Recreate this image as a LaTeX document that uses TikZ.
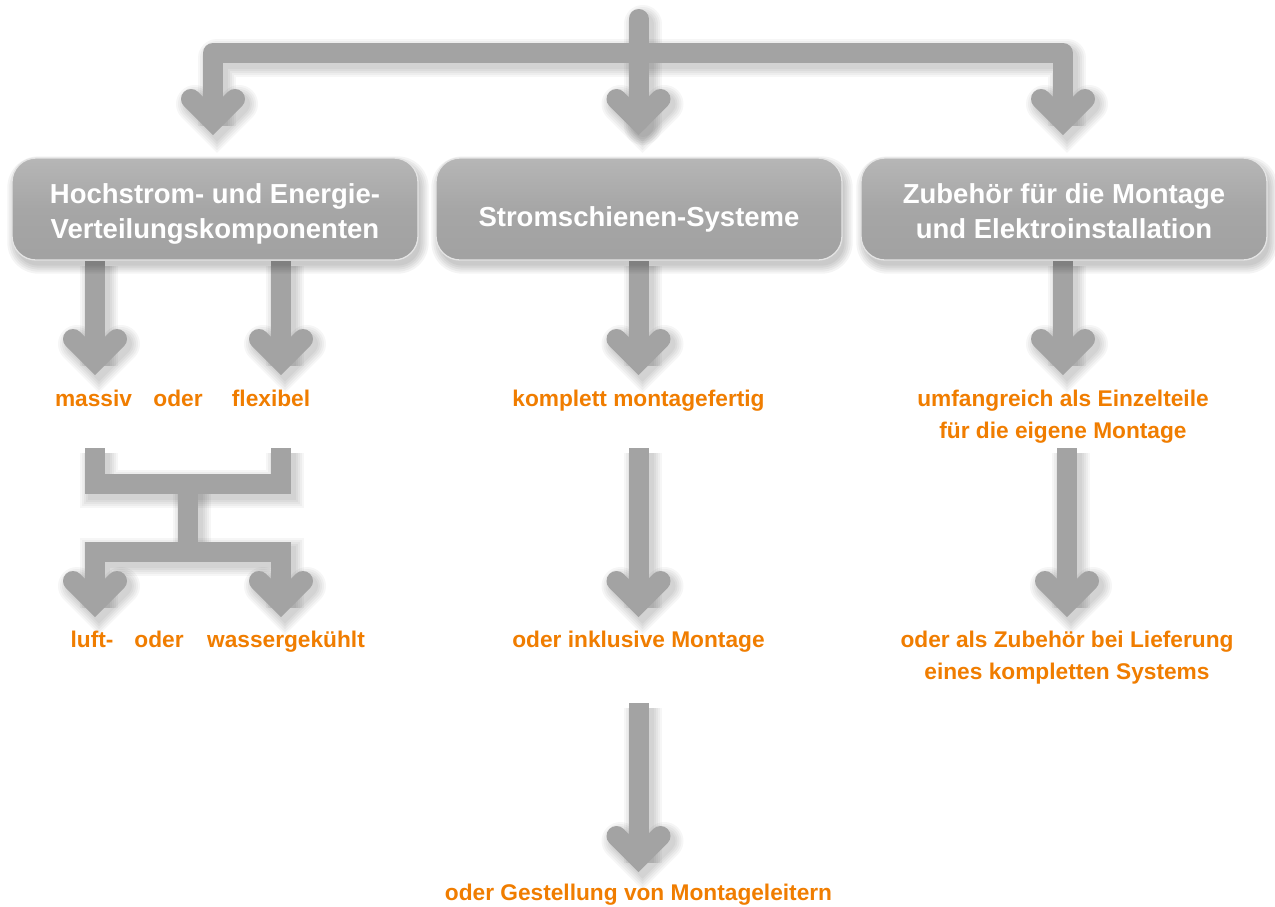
\documentclass[tikz,border=0pt]{standalone}
\usepackage{fontspec}
\setmainfont{Liberation Sans}
\definecolor{cgray}{HTML}{A3A3A3}
\definecolor{org}{HTML}{F07D00}
\definecolor{bxt}{HTML}{CBCBCB}
\definecolor{bxq}{HTML}{B4B4B4}
\definecolor{bxm}{HTML}{A6A6A6}
\definecolor{bxb}{HTML}{9D9D9D}
\definecolor{bxe}{HTML}{E4E4E4}
\pgfdeclareverticalshading{boxshade}{100bp}{color(0bp)=(bxb); color(50bp)=(bxm); color(72bp)=(bxq); color(100bp)=(bxt)}
\pgfdeclarelayer{bglayer}
\pgfdeclarelayer{shadowlayer}
\pgfdeclarelayer{connlayer}
\pgfdeclarelayer{boxshadowlayer}
\pgfsetlayers{bglayer,shadowlayer,connlayer,boxshadowlayer,main}
\newcommand\chev[2]{\draw[#1, line join=miter, line cap=round] (#2) ++(-22,-22) -- (#2) -- ++(22,-22);}
\newcommand\connpaths[1]{%
  \draw[#1, line join=round] (va) |- (bar) -| (vc);
  \draw[#1, line cap=round] (top) -- (vb);
  \chev{#1}{va}\chev{#1}{vb}\chev{#1}{vc}
  \draw[#1] (b1.south -| v11) -- (v11);
  \draw[#1] (b1.south -| v12) -- (v12);
  \draw[#1] (b2.south -| v2a) -- (v2a);
  \draw[#1] (b3.south -| v3a) -- (v3a);
  \chev{#1}{v11}\chev{#1}{v12}\chev{#1}{v2a}\chev{#1}{v3a}
  \draw[#1, line join=miter] (hl) |- (hm) -| (hr);
  \draw[#1] (hm) -- (hn);
  \draw[#1, line join=miter] (v13) |- (hn) -| (v14);
  \draw[#1] (s2b) -- (v2b);
  \draw[#1] (s2c) -- (v2c);
  \draw[#1] (s3b) -- (v3b);
  \chev{#1}{v13}\chev{#1}{v14}\chev{#1}{v2b}\chev{#1}{v3b}\chev{#1}{v2c}
}
\newcommand\boxshadow[1]{%
  \foreach \e/\r in {7/31,5/29,3/27,1/25,-1/23}{%
    \fill[black, opacity=0.045, rounded corners=\r pt]
      ([xshift=3pt-\e pt, yshift=-6pt-\e pt]#1.south west) rectangle
      ([xshift=3pt+\e pt, yshift=-6pt+\e pt]#1.north east);
  }%
}
\begin{document}
\begin{tikzpicture}[x=1pt,y=-1pt,
  conn/.style={draw=cgray, line width=20pt},
  shd/.style={draw=black, line width=#1, opacity=0.035, transform canvas={shift={(4pt,-5pt)}}},
  box/.style={rounded corners=24pt, minimum width=406pt, minimum height=102pt,
    shading=boxshade, draw=bxe, line width=1.3pt},
  btxt/.style={text=white, font=\fontsize{27.5}{33}\selectfont\bfseries, anchor=base, inner sep=0pt},
  otxt/.style={text=org, font=\fontsize{22.7}{32}\selectfont\bfseries, anchor=base, inner sep=0pt}]
\begin{pgfonlayer}{bglayer}
\fill[white] (0,0) rectangle (1275,906);
\end{pgfonlayer}
\useasboundingbox (0,0) rectangle (1275,906);
% boxes
\node[box] (b1) at (215,209) {};
\node[box] (b2) at (639,209) {};
\node[box] (b3) at (1064,209) {};
\node[btxt] (b1l1) at (215,203) {Hochstrom- und Energie-};
\node[btxt] (b1l2) at (215,238) {Verteilungskomponenten};
\node[btxt] (b2l1) at (639,226) {Stromschienen-Systeme};
\node[btxt] (b3l1) at (1064,203) {Zubehör für die Montage};
\node[btxt] (b3l2) at (1064,238) {und Elektroinstallation};
\begin{pgfonlayer}{boxshadowlayer}
  \boxshadow{b1}\boxshadow{b2}\boxshadow{b3}
\end{pgfonlayer}
% orange texts
\node[otxt] (massiv) at (93.5,406) {massiv};
\node[otxt] (oder1) at (178,406) {oder};
\node[otxt] (flexibel) at (271,406) {flexibel};
\node[otxt] (komplett) at (638.5,406) {komplett montagefertig};
\node[otxt] (umf1) at (1063,406) {umfangreich als Einzelteile};
\node[otxt] (umf2) at (1063,438) {für die eigene Montage};
\node[otxt] (luft) at (92,647) {luft-};
\node[otxt] (oder2) at (159,647) {oder};
\node[otxt] (wasser) at (286,647) {wassergekühlt};
\node[otxt] (inkl) at (638.5,647) {oder inklusive Montage};
\node[otxt] (zub1) at (1067,647) {oder als Zubehör bei Lieferung};
\node[otxt] (zub2) at (1067,679) {eines kompletten Systems};
\node[otxt] (gest) at (638.5,900) {oder Gestellung von Montageleitern};
% connector coordinates
\coordinate (top) at (638.5,19);
\coordinate (bar) at (638.5,53);
\coordinate (va) at (213,121);
\coordinate (vb) at (638.5,121);
\coordinate (vc) at (1063,121);
\coordinate (v11) at (95,361);
\coordinate (v12) at (281,361);
\coordinate (v2a) at (638.5,361);
\coordinate (v3a) at (1063,361);
\coordinate (hl) at (95,448);
\coordinate (hr) at (281,448);
\coordinate (hm) at (188,484);
\coordinate (hn) at (188,552);
\coordinate (v13) at (95,603);
\coordinate (v14) at (281,603);
\coordinate (s2b) at (638.5,448);
\coordinate (v2b) at (638.5,603);
\coordinate (s2c) at (638.5,703);
\coordinate (v2c) at (638.5,858);
\coordinate (s3b) at (1067,448);
\coordinate (v3b) at (1067,603);
\begin{pgfonlayer}{shadowlayer}
  \connpaths{shd=38pt}
  \connpaths{shd=34pt}
  \connpaths{shd=30pt}
  \connpaths{shd=26pt}
  \connpaths{shd=22pt}
\end{pgfonlayer}
\begin{pgfonlayer}{connlayer}
  \connpaths{conn}
\end{pgfonlayer}
\end{tikzpicture}
\end{document}
